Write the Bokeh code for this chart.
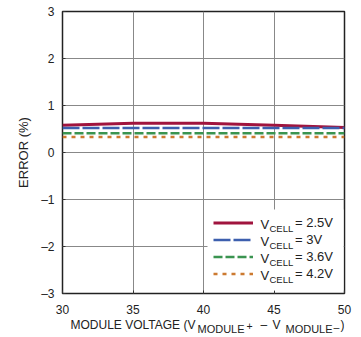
from bokeh.plotting import figure
from bokeh.layouts import column
from bokeh.models import Label, Legend, LegendItem, FixedTicker, BoxAnnotation
from bokeh.core.properties import value
from bokeh.embed import file_html
from bokeh.resources import INLINE

FONT = "'Liberation Sans', Arial, sans-serif"
TXT = "#222222"

# data
voltage = [30, 35, 40, 45, 50]
err_25 = [0.58, 0.62, 0.62, 0.58, 0.53]
err_30 = [0.52, 0.52, 0.52, 0.52, 0.52]
err_36 = [0.41, 0.41, 0.41, 0.41, 0.41]
err_42 = [0.33, 0.33, 0.33, 0.33, 0.33]
legend_values = ["2.5V", "3V", "3.6V", "4.2V"]
x_ticks = [30, 35, 40, 45, 50]
y_ticks = [-3, -2, -1, 0, 1, 2, 3]
y_tick_labels = ["–3", "–2", "–1", "0", "1", "2", "3"]

series = [
    (err_25, "#a0143e", None, 3),
    (err_30, "#3d5fae", "17 3", 2.5),
    (err_36, "#3a9450", "9 3", 2.5),
    (err_42, "#cc7a30", "4 5", 2.5),
]

LB, RB = 62, 17
p = figure(width=361, height=319, x_range=(30, 50), y_range=(-3, 3),
           output_backend="svg", toolbar_location=None,
           min_border_left=LB, min_border_right=RB, min_border_top=11, min_border_bottom=26)
p.background_fill_color = "white"
p.border_fill_color = "white"
p.outline_line_color = TXT
p.outline_line_width = 1.5

for ax in p.axis:
    ax.axis_line_color = None
    ax.major_tick_in = 3
    ax.major_tick_out = 0
    ax.major_tick_line_color = "#333333"
    ax.minor_tick_line_color = None
    ax.major_label_text_font = FONT
    ax.major_label_text_font_size = "12px"
    ax.major_label_text_color = TXT

p.xaxis.ticker = FixedTicker(ticks=x_ticks)
p.yaxis.ticker = FixedTicker(ticks=y_ticks)
p.yaxis.major_label_overrides = {t: l for t, l in zip(y_ticks, y_tick_labels)}
p.xaxis.major_label_standoff = 11
p.yaxis.major_label_standoff = 8
p.yaxis.axis_label = "ERROR (%)"
p.yaxis.axis_label_text_font = FONT
p.yaxis.axis_label_text_font_size = "13px"
p.yaxis.axis_label_text_font_style = "normal"
p.yaxis.axis_label_text_color = TXT
p.yaxis.axis_label_standoff = 7

p.grid.grid_line_color = "#888888"
p.grid.grid_line_width = 1
p.xgrid.ticker = FixedTicker(ticks=x_ticks)
p.ygrid.ticker = FixedTicker(ticks=y_ticks)

renderers = []
for ys, color, dash, w in series:
    kw = dict(line_color=color, line_width=w)
    if dash:
        kw["line_dash"] = dash
    r = p.line(voltage, ys, **kw)
    renderers.append(r)

# white legend background
p.add_layout(BoxAnnotation(left=145, right=281, bottom=3, top=84,
                           left_units="screen", right_units="screen",
                           bottom_units="screen", top_units="screen",
                           fill_color="white", fill_alpha=1.0, line_color=None))

items = [LegendItem(label="= " + v, renderers=[r]) for v, r in zip(legend_values, renderers)]
legend = Legend(items=items, location=(151, 11), glyph_width=40, glyph_height=17,
                label_height=17, spacing=0, padding=6, margin=0,
                label_standoff=42, border_line_color=None,
                background_fill_alpha=0.0, label_text_font=FONT,
                label_text_font_size="13px", label_text_color=TXT)
p.add_layout(legend)


def add_text(x, y, text, size):
    p.add_layout(Label(x=x, y=y, x_units="screen", y_units="screen", text=text,
                       text_font=FONT, text_font_size=size, text_color=TXT,
                       text_baseline="middle", text_align="left"))


# "V" with subscript "CELL" in front of each legend label
row_y = [69, 52, 35, 18]
for yv in row_y:
    add_text(198, yv, "V", "13px")
    add_text(207, yv - 4, "CELL", "9.5px")

# x axis title (with subscripts) in a strip below the chart, x in page pixels
t = figure(width=361, height=18, x_range=(LB, 361 - RB), y_range=(0, 18),
           output_backend="svg", toolbar_location=None,
           min_border_left=LB, min_border_right=RB, min_border_top=0, min_border_bottom=0,
           outline_line_color=None)
t.axis.visible = False
t.grid.visible = False
t.border_fill_color = "white"

title_parts = [
    (70, 13, "MODULE VOLTAGE (V", "12px"),
    (197, 9, "MODULE", "11px"),
    (246, 12, "+", "10.5px"),
    (260, 13, "–", "12px"),
    (272, 13, "V", "12px"),
    (285, 9, "MODULE", "11px"),
    (333, 11, "–", "10.5px"),
    (340, 13, ")", "12px"),
]
for x, y, s, size in title_parts:
    t.text(x=[x], y=[y], text=[s], text_font=value(FONT), text_font_size=size,
           text_color=TXT, text_baseline="middle", text_align="left")

open("out.html", "w").write(file_html(column(p, t, spacing=0), INLINE))
